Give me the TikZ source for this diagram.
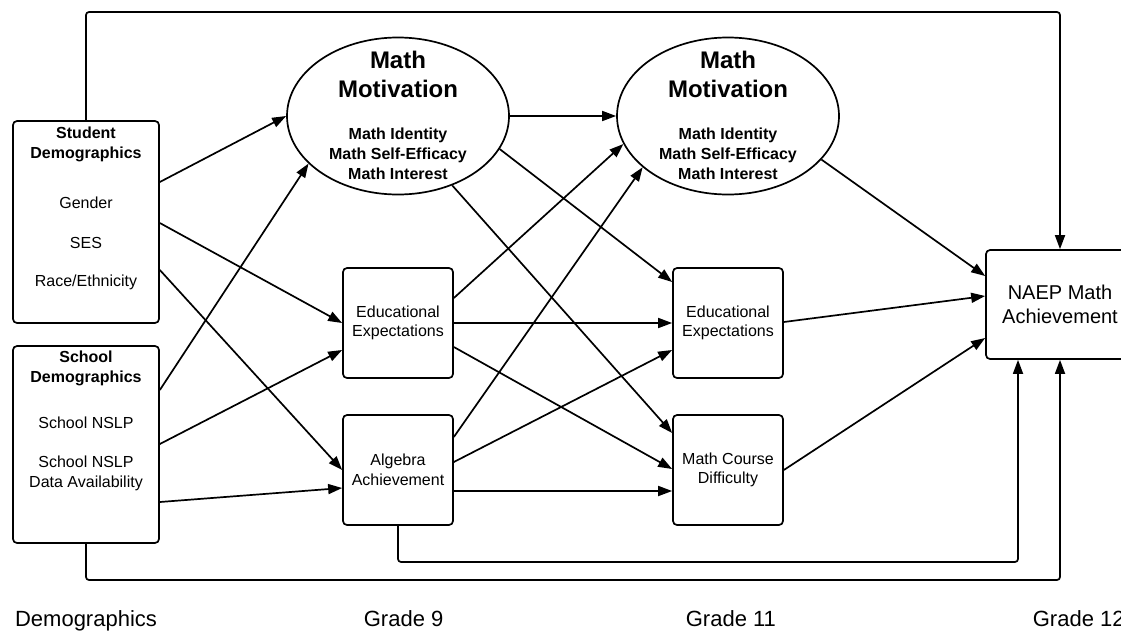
\documentclass[tikz,border=0pt]{standalone}
\usepackage{fontspec}
\setmainfont{Liberation Sans}
\usetikzlibrary{arrows.meta,calc,shapes.geometric}
\begin{document}
\begin{tikzpicture}[x=1pt,y=-1pt,
  line width=1.7pt, line join=round,
  box/.style={draw, rounded corners=4pt, inner sep=0pt, align=center,
    font=\fontsize{16}{19.5}\selectfont},
  motiv/.style={draw, ellipse, minimum width=222pt, minimum height=157pt, inner sep=0pt},
  txt/.style={align=center, inner sep=0pt, font=\fontsize{16}{20}\selectfont},
  head/.style={align=center, inner sep=0pt, font=\bfseries\fontsize{16}{20}\selectfont},
  bighead/.style={align=center, inner sep=0pt, font=\bfseries\fontsize{24}{28.5}\selectfont},
  grade/.style={inner sep=0pt, font=\fontsize{22}{26}\selectfont},
  link/.style={-{Triangle[length=14pt,width=10pt]}},
  route/.style={link, rounded corners=3pt}
]
\fill[white] (0,0) rectangle (1121,632);
\useasboundingbox (0,0) rectangle (1121,632);
\clip (0,0) rectangle (1121,632);

% Demographics column
\node[box, minimum width=146pt, minimum height=202pt] (stud) at (86,222) {};
\node[head] (studhead) at (86,144) {Student\\Demographics};
\node[txt] (gender) at (86,203) {Gender};
\node[txt] (ses) at (86,243) {SES};
\node[txt] (race) at (86,282) {Race/Ethnicity};

\node[box, minimum width=146pt, minimum height=197pt] (sch) at (86,444.5) {};
\node[head] (schhead) at (86,368.5) {School\\Demographics};
\node[txt] (nslp) at (86,423) {School NSLP};
\node[txt] (nslpdata) at (86,473) {School NSLP\\Data Availability};

% Grade 9
\node[motiv] (e1) at (398,116) {};
\node[bighead] (e1head) at (398,74.5) {Math\\Motivation};
\node[head] (e1list) at (398,154) {Math Identity\\Math Self-Efficacy\\Math Interest};
\node[box, minimum width=110pt, minimum height=110pt] (ee9) at (398,323) {Educational\\Expectations};
\node[box, minimum width=110pt, minimum height=110pt] (alg) at (398,470) {Algebra\\Achievement};

% Grade 11
\node[motiv] (e2) at (728,116) {};
\node[bighead] (e2head) at (728,74.5) {Math\\Motivation};
\node[head] (e2list) at (728,154) {Math Identity\\Math Self-Efficacy\\Math Interest};
\node[box, minimum width=110pt, minimum height=110pt] (ee11) at (728,323) {Educational\\Expectations};
\node[box, minimum width=110pt, minimum height=110pt] (mc) at (728,470) {Math Course\\Difficulty};

% Grade 12
\node[box, minimum width=148pt, minimum height=109pt,
  font=\fontsize{20}{24}\selectfont] (naep) at (1060,304.5) {NAEP Math\\Achievement};

% column labels
\node[grade, anchor=base] (gdemo) at (86,626.5) {Demographics};
\node[grade, anchor=base west] (g9) at (363,626.5) {Grade 9};
\node[grade, anchor=base west] (g11) at (685,626.5) {Grade 11};
\node[grade, anchor=base west] (g12) at (1032,626.5) {Grade 12};

% routing levels for the long connectors
\coordinate (topy) at (0,12);
\coordinate (lowa) at (0,562);
\coordinate (lowb) at (0,580);

% from demographics
\draw[link] ($(stud.east)+(0,-40)$) -- (e1.west);
\draw[link] ($(stud.east)+(0,1)$) -- (ee9.west);
\draw[link] ($(stud.east)+(0,48)$) -- (alg.west);
\draw[link] ($(sch.east)+(0,-54.5)$) -- (e1.208.6);
\draw[link] ($(sch.east)+(0,-0.5)$) -- ($(ee9.west)+(0,27)$);
\draw[link] ($(sch.east)+(0,57.5)$) -- ($(alg.west)+(0,18)$);

% grade 9 to grade 11
\draw[link] (e1.east) -- (e2.west);
\draw[link] ($(ee9.east)+(0,-25)$) -- (e2.195);
\draw[link] (ee9.east) -- (ee11.west);
\draw[link] ($(ee9.east)+(0,24)$) -- ($(mc.west)+(0,-1)$);
\draw[link] ($(alg.east)+(0,-33)$) -- (e2.211);
\draw[link] ($(alg.east)+(0,-8)$) -- ($(ee11.west)+(0,27)$);
\draw[link] ($(alg.east)+(0,21)$) -- ($(mc.west)+(0,21)$);
\draw[link] (e1.342.6) -- ($(ee11.west)+(0,-41)$);
\draw[link] (e1.308.6) -- ($(mc.west)+(0,-37)$);

% grade 11 to grade 12
\draw[link] (e2.335.6) -- ($(naep.west)+(0,-28.5)$);
\draw[link] ($(ee11.east)+(0,-1)$) -- ($(naep.west)+(0,-8.5)$);
\draw[link] (mc.east) -- ($(naep.west)+(0,33.5)$);

% long direct paths
\draw[route] (stud.north) -- (stud.north |- topy) -| (naep.north);
\draw[route] (alg.south) -- (alg.south |- lowa) -| ($(naep.south)+(-42,0)$);
\draw[route] (sch.south) -- (sch.south |- lowb) -| (naep.south);
\end{tikzpicture}
\end{document}
